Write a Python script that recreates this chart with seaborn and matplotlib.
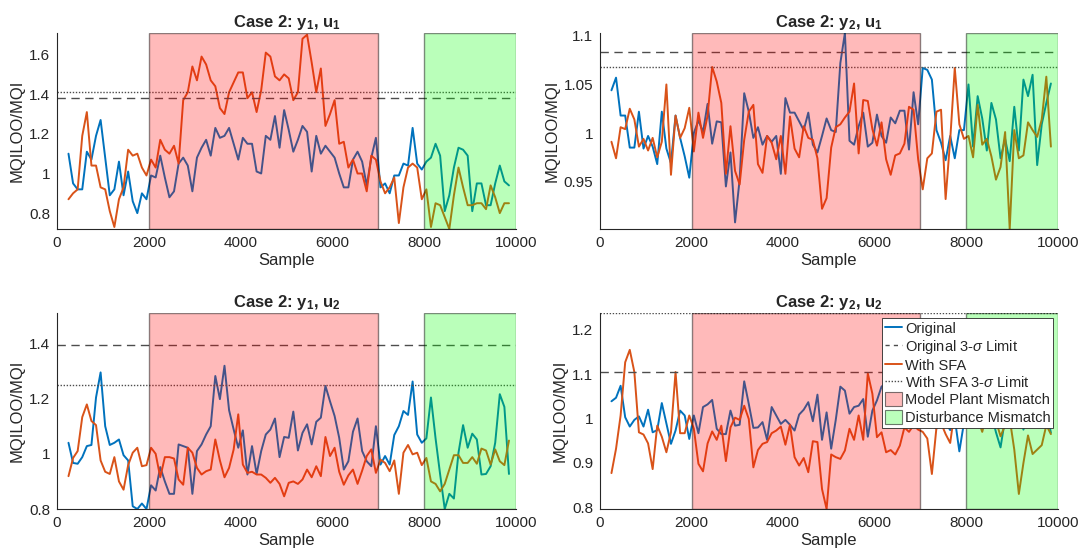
import numpy as np
import pandas as pd
import matplotlib
matplotlib.use('Agg')
import matplotlib.pyplot as plt
from matplotlib.patches import Patch
from matplotlib.lines import Line2D
import seaborn as sns

# sample index of each point
samples = np.arange(250, 9851, 100)

# Case 2: y1, u1
y1u1_orig = [1.10, 0.95, 0.92, 0.92, 1.11, 1.07, 1.19, 1.27, 1.08, 0.89, 0.92, 1.06, 0.89, 1.01, 0.86, 0.80,
             0.90, 0.87, 0.99, 0.98, 1.09, 0.98, 0.88, 0.91, 1.05, 1.08, 1.04, 0.91, 1.08, 1.13, 1.17, 1.09,
             1.23, 1.18, 1.19, 1.23, 1.15, 1.07, 1.18, 1.15, 1.15, 1.01, 1.00, 1.19, 1.17, 1.29, 1.13, 1.32,
             1.22, 1.11, 1.17, 1.24, 1.21, 1.01, 1.19, 1.10, 1.14, 1.11, 1.08, 1.00, 0.93, 0.93, 1.07, 1.11,
             1.06, 0.94, 1.08, 1.18, 0.93, 0.95, 0.90, 0.99, 0.99, 1.05, 1.04, 1.23, 1.05, 1.02, 1.06, 1.08,
             1.15, 1.09, 0.81, 0.89, 1.03, 1.13, 1.12, 1.09, 0.81, 0.95, 0.95, 0.84, 0.84, 0.95, 1.04, 0.96, 0.94]
y1u1_sfa = [0.87, 0.90, 0.92, 1.19, 1.31, 1.04, 1.04, 0.93, 0.92, 0.81, 0.73, 0.87, 0.93, 1.12, 1.09, 1.10,
            1.03, 0.99, 1.07, 1.03, 1.17, 1.12, 1.10, 1.14, 1.05, 1.37, 1.41, 1.54, 1.47, 1.59, 1.55, 1.47,
            1.44, 1.33, 1.30, 1.41, 1.46, 1.51, 1.51, 1.38, 1.41, 1.31, 1.42, 1.61, 1.59, 1.49, 1.47, 1.50,
            1.48, 1.37, 1.41, 1.68, 1.70, 1.56, 1.41, 1.53, 1.24, 1.30, 1.37, 1.15, 1.16, 1.03, 1.07, 1.00,
            1.00, 0.91, 1.09, 1.07, 0.96, 0.90, 0.93, 0.98, 0.75, 0.93, 1.03, 1.05, 1.03, 0.87, 0.92, 0.73,
            0.85, 0.84, 0.78, 0.72, 0.89, 1.03, 0.93, 0.84, 0.84, 0.85, 0.85, 0.82, 0.94, 0.88, 0.80, 0.85, 0.85]

# Case 2: y2, u1
y2u1_orig = [1.044, 1.057, 1.018, 1.018, 0.985, 0.985, 1.022, 0.984, 0.997, 0.986, 0.968, 1.022, 0.984, 0.969,
             1.018, 0.995, 0.976, 0.954, 1.000, 1.013, 1.001, 1.030, 0.989, 1.012, 1.011, 0.945, 0.980, 0.908,
             0.952, 1.041, 1.022, 0.995, 1.006, 0.988, 0.997, 0.991, 0.997, 0.958, 1.036, 1.021, 1.021, 1.012,
             1.003, 1.021, 0.988, 0.980, 0.997, 1.015, 1.003, 1.001, 1.072, 1.103, 0.992, 0.988, 1.007, 1.021,
             0.986, 0.990, 1.019, 0.997, 0.990, 1.016, 1.010, 1.023, 1.023, 0.983, 1.042, 1.009, 1.067, 1.065,
             1.055, 1.003, 0.990, 0.972, 0.997, 0.974, 1.003, 1.003, 1.050, 0.986, 1.038, 1.015, 0.982, 1.031,
             1.014, 0.974, 0.994, 0.971, 1.027, 0.982, 1.055, 1.038, 1.060, 0.967, 1.009, 1.031, 1.051]
y2u1_sfa = [0.991, 0.974, 1.006, 1.004, 1.025, 1.014, 0.986, 0.994, 0.982, 0.995, 0.975, 0.991, 1.050, 0.957,
            1.018, 0.995, 1.005, 1.026, 0.981, 1.021, 0.995, 1.018, 1.068, 1.053, 1.031, 0.958, 1.007, 0.961,
            0.947, 0.993, 1.022, 1.029, 0.968, 0.959, 0.997, 0.990, 0.973, 0.997, 0.958, 1.017, 0.984, 0.975,
            1.007, 0.995, 0.993, 0.974, 0.922, 0.933, 0.985, 1.006, 1.009, 1.016, 1.022, 1.051, 0.979, 1.034,
            1.033, 1.004, 0.987, 1.011, 0.973, 0.957, 0.977, 0.979, 0.989, 1.027, 1.024, 0.973, 0.942, 0.974,
            0.979, 1.022, 1.024, 0.932, 0.993, 1.067, 1.009, 0.994, 0.997, 0.975, 1.029, 0.988, 0.994, 0.976,
            0.952, 0.965, 1.001, 0.901, 1.003, 0.974, 0.977, 1.011, 1.003, 0.996, 1.014, 1.058, 0.986]

# Case 2: y1, u2
y1u2_orig = [1.04, 0.967, 0.964, 0.988, 1.028, 1.032, 1.204, 1.295, 1.10, 1.032, 1.04, 1.052, 0.995, 0.976,
             0.81, 0.80, 0.82, 0.80, 0.886, 0.867, 0.952, 0.90, 0.855, 0.855, 1.034, 1.028, 1.022, 0.855, 1.01,
             1.034, 1.07, 1.10, 1.282, 1.198, 1.319, 1.158, 1.088, 1.022, 1.085, 0.925, 1.028, 0.927, 1.01,
             1.07, 1.088, 1.128, 0.988, 1.061, 1.058, 1.153, 1.012, 1.076, 1.107, 1.034, 1.116, 1.131, 1.246,
             1.19, 1.137, 1.058, 0.943, 0.973, 1.08, 1.128, 1.01, 0.973, 0.955, 1.10, 0.961, 0.992, 0.961,
             1.068, 1.10, 1.155, 1.141, 1.262, 1.07, 1.04, 1.056, 1.204, 1.056, 0.925, 0.80, 0.855, 0.838,
             1.004, 1.104, 1.022, 1.073, 1.052, 0.925, 0.927, 0.955, 1.04, 1.216, 1.17, 0.927]
y1u2_sfa = [0.919, 0.985, 1.01, 1.133, 1.179, 1.119, 1.104, 0.976, 0.935, 0.927, 0.988, 0.90, 0.87, 0.959,
            1.004, 1.022, 0.955, 0.959, 1.022, 1.0, 0.915, 0.988, 0.988, 0.983, 0.907, 0.888, 1.022, 1.004,
            0.949, 0.925, 0.937, 0.943, 1.052, 0.976, 0.915, 0.949, 1.016, 1.143, 0.961, 0.931, 0.935, 0.925,
            0.925, 0.913, 0.895, 0.913, 0.891, 0.846, 0.895, 0.90, 0.891, 0.907, 0.943, 0.915, 0.955, 0.919,
            1.061, 0.992, 1.022, 0.935, 0.888, 0.922, 0.943, 0.891, 0.939, 0.992, 1.016, 0.931, 0.979, 0.967,
            0.937, 0.976, 0.855, 1.004, 1.032, 0.998, 1.004, 0.959, 0.985, 0.90, 0.891, 0.864, 0.891, 0.943,
            0.995, 0.995, 0.967, 0.967, 0.988, 0.964, 1.019, 1.012, 0.961, 1.016, 0.973, 0.959, 1.048]

# Case 2: y2, u2
y2u2_orig = [1.039, 1.047, 1.074, 1.003, 0.982, 0.997, 1.005, 0.982, 1.020, 0.969, 0.974, 1.035, 0.989, 0.943,
             0.973, 1.018, 1.007, 0.954, 1.007, 0.967, 1.026, 1.032, 1.042, 0.977, 0.965, 0.965, 1.018, 0.984,
             0.986, 1.084, 1.033, 0.979, 0.980, 0.992, 0.952, 1.026, 1.007, 0.988, 0.997, 0.986, 0.973, 1.009,
             1.020, 1.037, 0.994, 1.054, 0.952, 1.014, 0.932, 0.997, 1.072, 1.063, 1.011, 1.026, 1.029, 1.044,
             0.959, 1.018, 1.041, 1.072, 1.080, 1.082, 1.089, 1.092, 1.10, 1.105, 1.09, 1.08, 1.05, 1.02, 0.985,
             0.977, 1.00, 0.99, 0.974, 1.00, 0.926, 0.99, 1.02, 1.05, 1.03, 1.06, 1.04, 1.01, 0.969, 0.935,
             1.00, 1.03, 0.99, 1.04, 0.975, 1.02, 1.05, 1.01, 0.99, 1.02, 0.968]
y2u2_sfa = [0.877, 0.932, 1.007, 1.127, 1.155, 1.105, 0.969, 0.964, 0.944, 0.886, 0.984, 0.959, 0.924, 0.969,
            1.105, 0.967, 0.967, 1.007, 0.977, 0.898, 0.881, 0.944, 0.971, 0.952, 0.984, 0.904, 0.980, 1.002,
            0.997, 1.029, 0.999, 0.890, 0.929, 0.943, 0.947, 0.967, 0.973, 0.982, 0.941, 0.986, 0.913, 0.894,
            0.911, 0.879, 0.949, 0.947, 0.841, 0.796, 0.919, 0.913, 0.909, 0.928, 0.977, 0.952, 1.007, 0.952,
            1.102, 1.056, 0.958, 0.969, 0.924, 0.929, 0.919, 0.939, 0.98, 0.97, 0.985, 0.975, 0.97, 0.955,
            0.875, 0.98, 0.99, 0.965, 0.945, 1.02, 1.06, 1.03, 0.99, 1.04, 1.00, 0.97, 1.01, 0.98, 0.995,
            0.96, 0.985, 1.00, 0.93, 0.83, 0.90, 0.962, 0.92, 0.93, 0.94, 0.985, 0.965]

titles = ['Case 2: y$_\\mathbf{1}$, u$_\\mathbf{1}$', 'Case 2: y$_\\mathbf{2}$, u$_\\mathbf{1}$',
          'Case 2: y$_\\mathbf{1}$, u$_\\mathbf{2}$', 'Case 2: y$_\\mathbf{2}$, u$_\\mathbf{2}$']
orig_limits = [1.38, 1.0833, 1.393, 1.105]
sfa_limits = [1.41, 1.0675, 1.251, 1.238]
ylims = [(0.719, 1.709), (0.901, 1.103), (0.80, 1.51), (0.796, 1.238)]
yticks = [[0.8, 1, 1.2, 1.4, 1.6], [0.95, 1, 1.05, 1.1], [0.8, 1, 1.2, 1.4], [0.8, 0.9, 1, 1.1, 1.2]]
mismatch_span = (2000, 7000)
disturb_span = (8000, 10000)

sns.set_style('white')
plt.rcParams['font.family'] = ['Liberation Sans', 'DejaVu Sans']
plt.rcParams['mathtext.fontset'] = 'custom'
plt.rcParams['mathtext.rm'] = 'Liberation Sans'
plt.rcParams['mathtext.it'] = 'Liberation Sans:italic'
plt.rcParams['mathtext.bf'] = 'Liberation Sans:bold'

blue = '#0072BD'
orange = '#D95319'
limit_gray = '#4d4d4d'

fig = plt.figure(figsize=(10.86, 5.59), dpi=100)
boxes = [(0.0525, 0.590, 0.4225, 0.351), (0.5525, 0.590, 0.4215, 0.351),
         (0.0525, 0.0894, 0.4225, 0.3506), (0.5525, 0.0894, 0.4215, 0.3506)]
series = [(y1u1_orig, y1u1_sfa), (y2u1_orig, y2u1_sfa), (y1u2_orig, y1u2_sfa), (y2u2_orig, y2u2_sfa)]

for i, box in enumerate(boxes):
    ax = fig.add_axes(box)
    orig, sfa = series[i]
    df = pd.DataFrame({'Sample': samples, 'orig': orig, 'sfa': sfa})
    sns.lineplot(data=df, x='Sample', y='orig', ax=ax, color=blue, lw=1.4, zorder=2)
    sns.lineplot(data=df, x='Sample', y='sfa', ax=ax, color=orange, lw=1.4, zorder=2)
    ax.axhline(orig_limits[i], color=limit_gray, ls=(0, (6, 4)), lw=1.0, zorder=2)
    ax.axhline(sfa_limits[i], color=limit_gray, ls=(0, (1, 1.2)), lw=1.0, zorder=2)
    ax.axvspan(*mismatch_span, facecolor=(1, 0, 0, 0.27), edgecolor=(0, 0, 0, 0.45), lw=1.0, zorder=3)
    ax.axvspan(*disturb_span, facecolor=(0, 1, 0, 0.27), edgecolor=(0, 0, 0, 0.45), lw=1.0, zorder=3)

    ax.set_xlim(0, 10000)
    ax.set_ylim(*ylims[i])
    ax.set_xticks([0, 2000, 4000, 6000, 8000, 10000])
    ax.set_yticks(yticks[i])
    ax.set_yticklabels(['{:g}'.format(t) for t in yticks[i]])
    ax.tick_params(direction='in', length=4, width=0.8, color='#262626', labelsize=11, labelcolor='#262626', pad=5)
    for s in ['top', 'right']:
        ax.spines[s].set_visible(False)
    for s in ['left', 'bottom']:
        ax.spines[s].set_color('#262626')
        ax.spines[s].set_linewidth(0.8)
    ax.set_xlabel('Sample', fontsize=12, color='#262626', labelpad=2)
    ax.set_ylabel('MQILOO/MQI', fontsize=12, color='#262626', labelpad=3)
    ax.set_title(titles[i], fontsize=12, fontweight='bold', pad=4)

    if i == 3:
        handles = [Line2D([], [], color=blue, lw=1.4),
                   Line2D([], [], color=limit_gray, ls=(0, (3, 3)), lw=1.0),
                   Line2D([], [], color=orange, lw=1.4),
                   Line2D([], [], color=limit_gray, ls=(0, (1, 1.2)), lw=1.0),
                   Patch(facecolor='#ffbbbb', edgecolor='#7a6a6a', lw=0.8),
                   Patch(facecolor='#bbffbb', edgecolor='#6a7a6a', lw=0.8)]
        labels = ['Original', 'Original 3-$\\sigma$ Limit', 'With SFA', 'With SFA 3-$\\sigma$ Limit',
                  'Model Plant Mismatch', 'Disturbance Mismatch']
        leg = ax.legend(handles, labels, loc='upper right', bbox_to_anchor=(0.997, 0.99), fontsize=10.5,
                        frameon=True, fancybox=False, edgecolor='#262626', framealpha=1,
                        handlelength=1.2, handleheight=1.1, handletextpad=0.2, labelspacing=0.15,
                        borderpad=0.2, borderaxespad=0.2)
        leg.get_frame().set_linewidth(0.6)
        leg.set_zorder(5)

fig.savefig('out.png', dpi=100)
